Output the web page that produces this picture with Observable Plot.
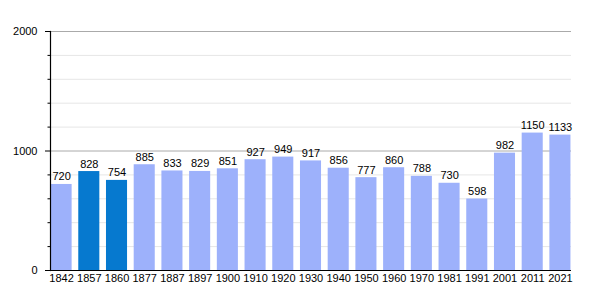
<!DOCTYPE html>
<html><head><meta charset="utf-8">
<script src="https://cdn.jsdelivr.net/npm/d3@7"></script>
<script src="https://cdn.jsdelivr.net/npm/@observablehq/plot@0.6"></script>
<style>body{margin:0;background:#fff;} svg{font-family:"Liberation Sans",Arial,sans-serif;}</style>
</head><body><div id="chart"></div>
<script>
const years = ["1842","1857","1860","1877","1887","1897","1900","1910","1920","1930","1940","1950","1960","1970","1981","1991","2001","2011","2021"];
const population = [720,828,754,885,833,829,851,927,949,917,856,777,860,788,730,598,982,1150,1133];
const highlighted = ["1857","1860"];
const majorTicks = [0,1000,2000];
const minorTicks = [200,400,600,800,1200,1400,1600,1800];

const data = years.map((y,i)=>({year:y, pop:population[i], hl: highlighted.includes(y)}));

const chart = Plot.plot({
  width: 600, height: 300,
  marginLeft: 50, marginRight: 29, marginTop: 31, marginBottom: 30,
  style: {fontFamily: '"Liberation Sans", Arial, sans-serif', fontSize: "11px", color: "#000"},
  x: {domain: years, paddingInner: 0.24, paddingOuter: 0.02, round: false, label: null},
  y: {domain: [0,2000], label: null},
  marks: [
    Plot.ruleY(minorTicks, {stroke: "#e6e6e6", strokeOpacity: 1}),
    Plot.ruleY([1000,2000], {stroke: "#aaaaaa", strokeOpacity: 1}),
    Plot.barY(data, {x: "year", y: "pop", fill: d => d.hl ? "#0679cf" : "#9db1fb"}),
    Plot.text(data, {x: "year", y: "pop", text: d => String(d.pop), dy: -4, lineAnchor: "bottom", fill: "#000", fontSize: 11}),
    Plot.axisX({tickSize: 0, tickPadding: 4, fontSize: 11, label: null}),
    Plot.axisY({ticks: majorTicks, tickFormat: d3.format("d"), tickSize: 5, tickPadding: 8, fontSize: 11, label: null, stroke: "#000"}),
    Plot.axisY({ticks: minorTicks, tickSize: 2.5, tickFormat: () => "", label: null, stroke: "#000"}),
    Plot.ruleY([0], {stroke: "#000", strokeWidth: 1.2}),
    Plot.frame({anchor: "left", stroke: "#000", strokeWidth: 1.2})
  ]
});
document.getElementById("chart").appendChild(chart);
</script></body></html>
